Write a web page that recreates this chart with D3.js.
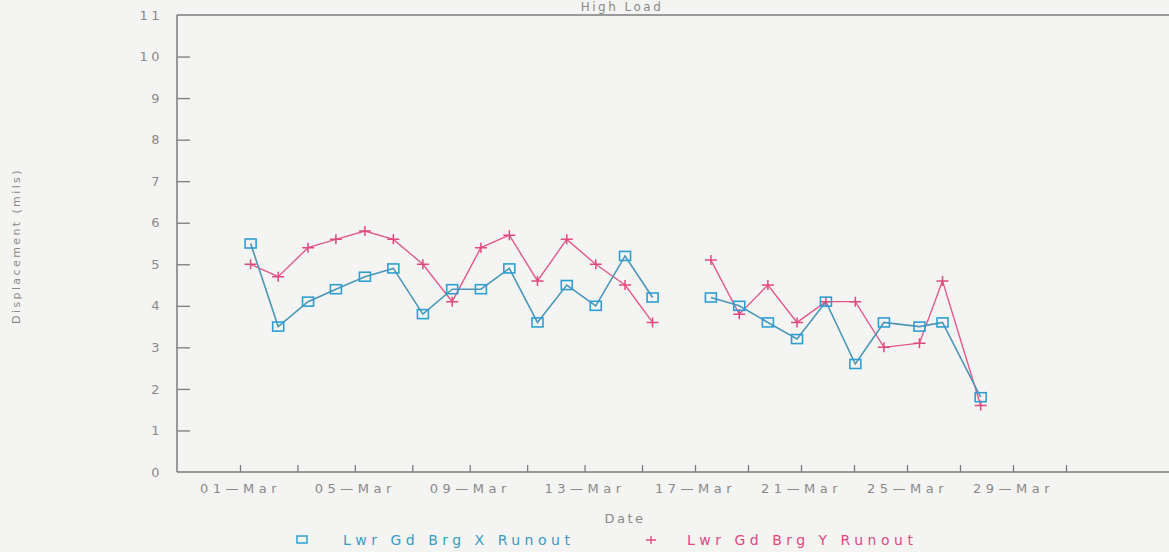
<!DOCTYPE html>
<html>
<head>
<meta charset="utf-8">
<script src="https://cdn.jsdelivr.net/npm/d3@7"></script>
<style>
  body { margin: 0; background: #f4f4f2; }
  text { font-family: "DejaVu Sans", sans-serif; fill: #8a8a8a; }
</style>
</head>
<body>
<script>
// day of March for each reading (null value = no reading that day)
const days = [1.37, 2.33, 3.37, 4.34, 5.35, 6.34, 7.37, 8.39, 9.39, 10.38, 11.36, 12.38, 13.39, 14.41, 15.4,
              16.5,
              17.6, 18.67, 19.75, 20.85, 21.94, 23.05, 24.13, 25.47, 26.34, 27.78]
const xRunout = [5.5, 3.5, 4.1, 4.4, 4.7, 4.9, 3.8, 4.4, 4.4, 4.9, 3.6, 4.5, 4.0, 5.2, 4.2,
                 null,
                 4.2, 4.0, 3.6, 3.2, 4.1, 2.6, 3.6, 3.5, 3.6, 1.8]
const yRunout = [5.0, 4.7, 5.4, 5.6, 5.8, 5.6, 5.0, 4.1, 5.4, 5.7, 4.6, 5.6, 5.0, 4.5, 3.6,
                 null,
                 5.1, 3.8, 4.5, 3.6, 4.1, 4.1, 3.0, 3.1, 4.6, 1.6]
const seriesNames = ['Lwr Gd Brg X Runout', 'Lwr Gd Brg Y Runout']
const tickDays = d3.range(1, 32, 2)
const labelDays = [1, 5, 9, 13, 17, 21, 25, 29]
const yTicks = d3.range(0, 12)

const W = 1169, H = 552
const plotLeft = 177, plotRight = 1169, plotTop = 15, plotBottom = 472
const blue = '#3b9bc6', pink = '#e0497f', axisCol = '#7c7c7c'

let svg = d3.select('body').append('svg')
    .attr('width', W)
    .attr('height', H)

// x scale (date axis in the scan is slightly uneven, so two pieces)
let x = d3.scaleLinear()
    .domain([1, 15, 31])
    .range([240, 642, 1066])

let y = d3.scaleLinear()
    .domain([0, 11])
    .range([plotBottom, plotTop])

// frame lines
svg.append('line').attr('x1', plotLeft).attr('x2', plotRight).attr('y1', plotTop).attr('y2', plotTop)
    .attr('stroke', axisCol).attr('stroke-width', 1.5)
svg.append('line').attr('x1', plotLeft).attr('x2', plotRight).attr('y1', plotBottom).attr('y2', plotBottom)
    .attr('stroke', axisCol).attr('stroke-width', 1.5)
svg.append('line').attr('x1', plotLeft).attr('x2', plotLeft).attr('y1', plotTop).attr('y2', plotBottom)
    .attr('stroke', axisCol).attr('stroke-width', 1.5)

// y axis
let yAxis = d3.axisLeft(y)
    .tickValues(yTicks)
    .tickSize(-13)
    .tickPadding(14)
    .tickFormat(d3.format('d'))

let gy = svg.append('g')
    .attr('transform', `translate(${plotLeft},0)`)
    .call(yAxis)
gy.select('.domain').remove()
gy.selectAll('.tick line').attr('stroke', axisCol).attr('stroke-width', 1.3)
    .filter(d => d === 0 || d === 11).remove()
gy.selectAll('.tick text').style('font-size', '13px').style('letter-spacing', '3.5px')
    .attr('fill', '#8a8a8a').attr('font-family', null)

// x axis
let xAxis = d3.axisBottom(x)
    .tickValues(tickDays)
    .tickSize(-7)
    .tickPadding(12)
    .tickFormat(d => labelDays.includes(d) ? d3.format('02d')(d) + '—Mar' : '')

let gx = svg.append('g')
    .attr('transform', `translate(0,${plotBottom})`)
    .call(xAxis)
gx.select('.domain').remove()
gx.selectAll('.tick line').attr('stroke', axisCol).attr('stroke-width', 1.3)
gx.selectAll('.tick text').style('font-size', '13px').style('letter-spacing', '4.5px')
    .attr('fill', '#8a8a8a').attr('font-family', null)

// titles
svg.append('text').attr('x', 622).attr('y', 11).attr('text-anchor', 'middle')
    .style('font-size', '12px').style('letter-spacing', '2.5px').text('High Load')
svg.append('text').attr('x', 625).attr('y', 523).attr('text-anchor', 'middle')
    .style('font-size', '13px').style('letter-spacing', '2.5px').text('Date')
svg.append('text').attr('transform', 'translate(20,246) rotate(-90)').attr('text-anchor', 'middle')
    .style('font-size', '11px').style('letter-spacing', '2.4px').text('Displacement (mils)')

// series
let line = d3.line()
    .defined(d => d[1] != null)
    .x(d => x(d[0]))
    .y(d => y(d[1]))

let xData = days.map((d, i) => [d, xRunout[i]])
let yData = days.map((d, i) => [d, yRunout[i]])

svg.append('path').datum(yData).attr('d', line)
    .attr('fill', 'none').attr('stroke', pink).attr('stroke-width', 1.4).attr('opacity', 0.9)
svg.append('path').datum(xData).attr('d', line)
    .attr('fill', 'none').attr('stroke', '#4c97b8').attr('stroke-width', 1.6)

// plus markers
let plus = 'M-6,0H6M0,-5V5'
svg.selectAll('.plus')
    .data(yData.filter(d => d[1] != null))
    .enter().append('path')
    .attr('class', 'plus')
    .attr('transform', d => `translate(${x(d[0])},${y(d[1])})`)
    .attr('d', plus)
    .attr('stroke', pink).attr('stroke-width', 1.5).attr('fill', 'none')

// square markers
svg.selectAll('.sq')
    .data(xData.filter(d => d[1] != null))
    .enter().append('rect')
    .attr('class', 'sq')
    .attr('x', d => x(d[0]) - 5.5)
    .attr('y', d => y(d[1]) - 4.5)
    .attr('width', 11)
    .attr('height', 9)
    .attr('fill', 'none').attr('stroke', '#2f9fd2').attr('stroke-width', 1.6)

// legend
let legend = svg.append('g')
legend.append('rect').attr('x', 297).attr('y', 536).attr('width', 10).attr('height', 7)
    .attr('fill', 'none').attr('stroke', '#2f9fd2').attr('stroke-width', 1.5)
legend.append('text').attr('x', 343).attr('y', 545)
    .style('font-size', '14px').style('letter-spacing', '4.5px').style('fill', blue)
    .text(seriesNames[0])
legend.append('path').attr('transform', 'translate(651,540)').attr('d', 'M-5,0H5M0,-4V4')
    .attr('stroke', pink).attr('stroke-width', 1.3)
legend.append('text').attr('x', 687).attr('y', 545)
    .style('font-size', '14px').style('letter-spacing', '4.5px').style('fill', pink)
    .text(seriesNames[1])
</script>
</body>
</html>
